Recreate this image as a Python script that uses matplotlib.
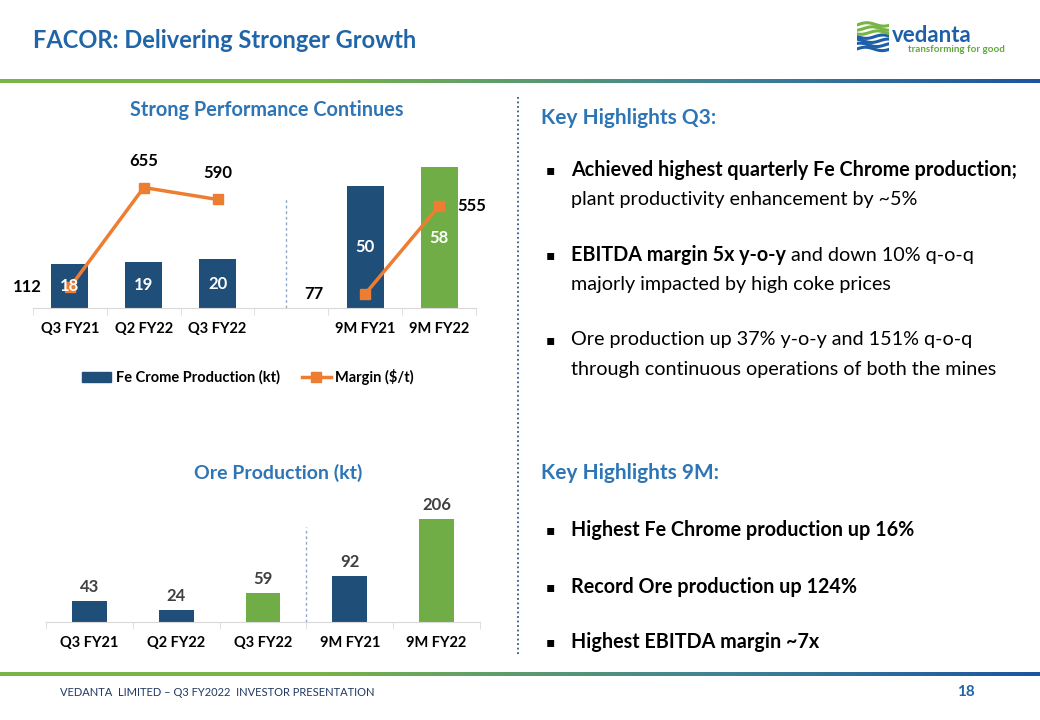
import numpy as np
import matplotlib
matplotlib.use("Agg")
import matplotlib.pyplot as plt
from matplotlib.colors import LinearSegmentedColormap
from matplotlib.lines import Line2D
from matplotlib.patches import Patch

plt.rcParams['font.family'] = ['Lato', 'DejaVu Sans']

# data
top_cats = ["Q3 FY21", "Q2 FY22", "Q3 FY22", "", "9M FY21", "9M FY22"]
fe_chrome = [18, 19, 20, np.nan, 50, 58]
margin = [112, 655, 590, np.nan, 77, 555]
fe_colors = ["#1F4E79", "#1F4E79", "#1F4E79", "#1F4E79", "#1F4E79", "#70AD47"]

ore_cats = ["Q3 FY21", "Q2 FY22", "Q3 FY22", "9M FY21", "9M FY22"]
ore_prod = [43, 24, 59, 92, 206]
ore_colors = ["#1F4E79", "#1F4E79", "#70AD47", "#1F4E79", "#70AD47"]

q3_points = [
    [("Achieved highest quarterly Fe Chrome production;", True)],
    [("plant productivity enhancement by ~5%", False)],
    [("EBITDA margin 5x y-o-y", True), (" and down 10% q-o-q", False)],
    [("majorly impacted by high coke prices", False)],
    [("Ore production up 37% y-o-y and 151% q-o-q", False)],
    [("through continuous operations of both the mines", False)],
]
m9_points = ["Highest Fe Chrome production up 16%",
             "Record Ore production up 124%",
             "Highest EBITDA margin ~7x"]

BLUE = "#1F4E79"
ORANGE = "#ED7D31"
TITLE_BLUE = "#1F65A8"
W, H = 1040, 720


def fx(x):
    return x / W


def fy(y):
    return 1 - y / H


fig = plt.figure(figsize=(10.4, 7.2), dpi=100)

# header / footer
fig.text(fx(33), fy(40), "FACOR: Delivering Stronger Growth", fontsize=17,
         fontweight="bold", color=TITLE_BLUE, va="center")
grad = LinearSegmentedColormap.from_list(
    "g", [(0, "#78B446"), (0.3, "#78B446"), (0.7, "#3E8296"), (1, "#1B55A0")])
for yy in (81, 674):
    gax = fig.add_axes([0, fy(yy + 2), 1, 4 / H])
    gax.imshow(np.linspace(0, 1, 256)[None, :], aspect="auto", cmap=grad)
    gax.axis("off")
fig.text(fx(60), fy(692), "VEDANTA  LIMITED \u2013 Q3 FY2022  INVESTOR PRESENTATION",
         fontsize=8, color="#1F3864", va="center")
fig.text(fx(966), fy(692), "18", fontsize=11, fontweight="bold",
         color=TITLE_BLUE, va="center", ha="center")

# logo
lax = fig.add_axes([fx(857), fy(53), 32 / W, 34 / H])
tt = np.linspace(0, 1, 50)
for i in range(7):
    yy = 0.12 + i * 0.12
    col = "#1F5FA8" if i < 4 else "#78B446"
    lax.plot(tt, yy + 0.05 * np.sin(tt * 6 + i), color=col, lw=2.2)
lax.set_xlim(0, 1)
lax.set_ylim(0, 1)
lax.axis("off")
fig.text(fx(892), fy(42), "vedanta", fontsize=16, fontweight="bold",
         color="#1F5FA8", va="baseline")
fig.text(fx(908), fy(45), "transforming for good", fontsize=7,
         fontweight="bold", color="#5FA83A", va="top")

# top chart
ax = fig.add_axes([fx(33), fy(308), 443 / W, 158 / H])
x = np.arange(len(top_cats))
bars = ax.bar(x, fe_chrome, width=0.5, color=fe_colors)
ax.set_ylim(0, 65)
ax.set_xlim(-0.5, len(top_cats) - 0.5)
ax.vlines(2.92, 0, 45, colors="#8EA9C8", linestyles=(0, (2, 2)), lw=1)
ax2 = ax.twinx()
ax2.plot(x, margin, color=ORANGE, lw=2.5, marker="s", ms=7)
ax2.set_ylim(0, 859)
# bar values drawn above the line
for xi, v in zip(x, fe_chrome):
    if not np.isnan(v):
        ax2.text(xi, v / 2, f"{v:.0f}", transform=ax.transData, ha="center",
                 va="center", color="white", fontsize=12, fontweight="bold")
offsets = [(-20, 0, "right", "center"), (0, 19, "center", "center"),
           (0, 19, "center", "center"), None, (-30, 0, "right", "center"),
           (13, 0, "left", "center")]
for xi, v, off in zip(x, margin, offsets):
    if off is None:
        continue
    ax2.annotate(f"{v:.0f}", (xi, v), xytext=off[:2], textcoords="offset points",
                 ha=off[2], va=off[3], fontsize=12, fontweight="bold")
for a in (ax, ax2):
    for s in ("top", "right", "left"):
        a.spines[s].set_visible(False)
    a.set_yticks([])
ax.spines["bottom"].set_color("#D9D9D9")
ax2.spines["bottom"].set_visible(False)
ax.set_xticks(x)
ax.set_xticklabels(top_cats, fontsize=10.5, fontweight="bold")
ax.tick_params(axis="x", length=0, pad=10)
ax.set_xticks(np.arange(-0.5, len(top_cats)), minor=True)
ax.tick_params(axis="x", which="minor", length=5, color="#D9D9D9")
handles = [Patch(color=BLUE),
           Line2D([0], [0], color=ORANGE, lw=2.5, marker="s", ms=7)]
ax.legend(handles, ["Fe Crome Production (kt)", "Margin ($/t)"], ncol=2,
          loc="center", bbox_to_anchor=(fx(248), fy(377)),
          bbox_transform=fig.transFigure, frameon=False,
          prop={"weight": "bold", "size": 10.5}, columnspacing=1.5,
          handlelength=2.0, handletextpad=0.3)
fig.text(fx(267), fy(110), "Strong Performance Continues", fontsize=14.3,
         fontweight="bold", color="#2E75B6", ha="center", va="center")

# bottom chart
bx = fig.add_axes([fx(46), fy(622), 434 / W, 122 / H])
xo = np.arange(len(ore_cats))
obars = bx.bar(xo, ore_prod, width=0.4, color=ore_colors)
bx.bar_label(obars, padding=4, fontsize=12, fontweight="bold", color="#404040")
bx.set_ylim(0, 244)
bx.set_xlim(-0.5, len(ore_cats) - 0.5)
bx.vlines(2.5, 0, 190, colors="#8EA9C8", linestyles=(0, (2, 2)), lw=1)
for s in ("top", "right", "left"):
    bx.spines[s].set_visible(False)
bx.spines["bottom"].set_color("#D9D9D9")
bx.set_yticks([])
bx.set_xticks(xo)
bx.set_xticklabels(ore_cats, fontsize=10.5, fontweight="bold")
bx.tick_params(axis="x", length=0, pad=10)
bx.set_xticks(np.arange(-0.5, len(ore_cats)), minor=True)
bx.tick_params(axis="x", which="minor", length=5, color="#D9D9D9")
fig.text(fx(278), fy(473), "Ore Production (kt)", fontsize=14,
         fontweight="bold", color="#2E75B6", ha="center", va="center")

# right panel
fig.add_artist(Line2D([fx(518), fx(518)], [fy(97), fy(655)],
                      color="#2E5C8A", lw=1.3, ls=(0, (1, 1.5))))
fig.text(fx(541), fy(118), "Key Highlights Q3:", fontsize=15,
         fontweight="bold", color="#2E75B6", va="center")
fig.text(fx(541), fy(473), "Key Highlights 9M:", fontsize=15,
         fontweight="bold", color="#2E75B6", va="center")

renderer = fig.canvas.get_renderer()
q3_y = [170, 200, 255, 285, 340, 370]
for i, (runs, yy) in enumerate(zip(q3_points, q3_y)):
    if i % 2 == 0:
        fig.text(fx(546), fy(yy), "\u25aa", fontsize=10, va="center",
                 family=["DejaVu Sans"])
    xpos = 571
    for txt, bold in runs:
        t = fig.text(fx(xpos), fy(yy), txt, fontsize=14.2,
                     fontweight="bold" if bold else "normal", va="center")
        xpos = t.get_window_extent(renderer).x1
m9_y = [530, 587, 642]
for txt, yy in zip(m9_points, m9_y):
    fig.text(fx(546), fy(yy), "\u25aa", fontsize=10, va="center",
             family=["DejaVu Sans"])
    fig.text(fx(571), fy(yy), txt, fontsize=14.2, fontweight="bold", va="center")

fig.savefig("out.png", dpi=100)
